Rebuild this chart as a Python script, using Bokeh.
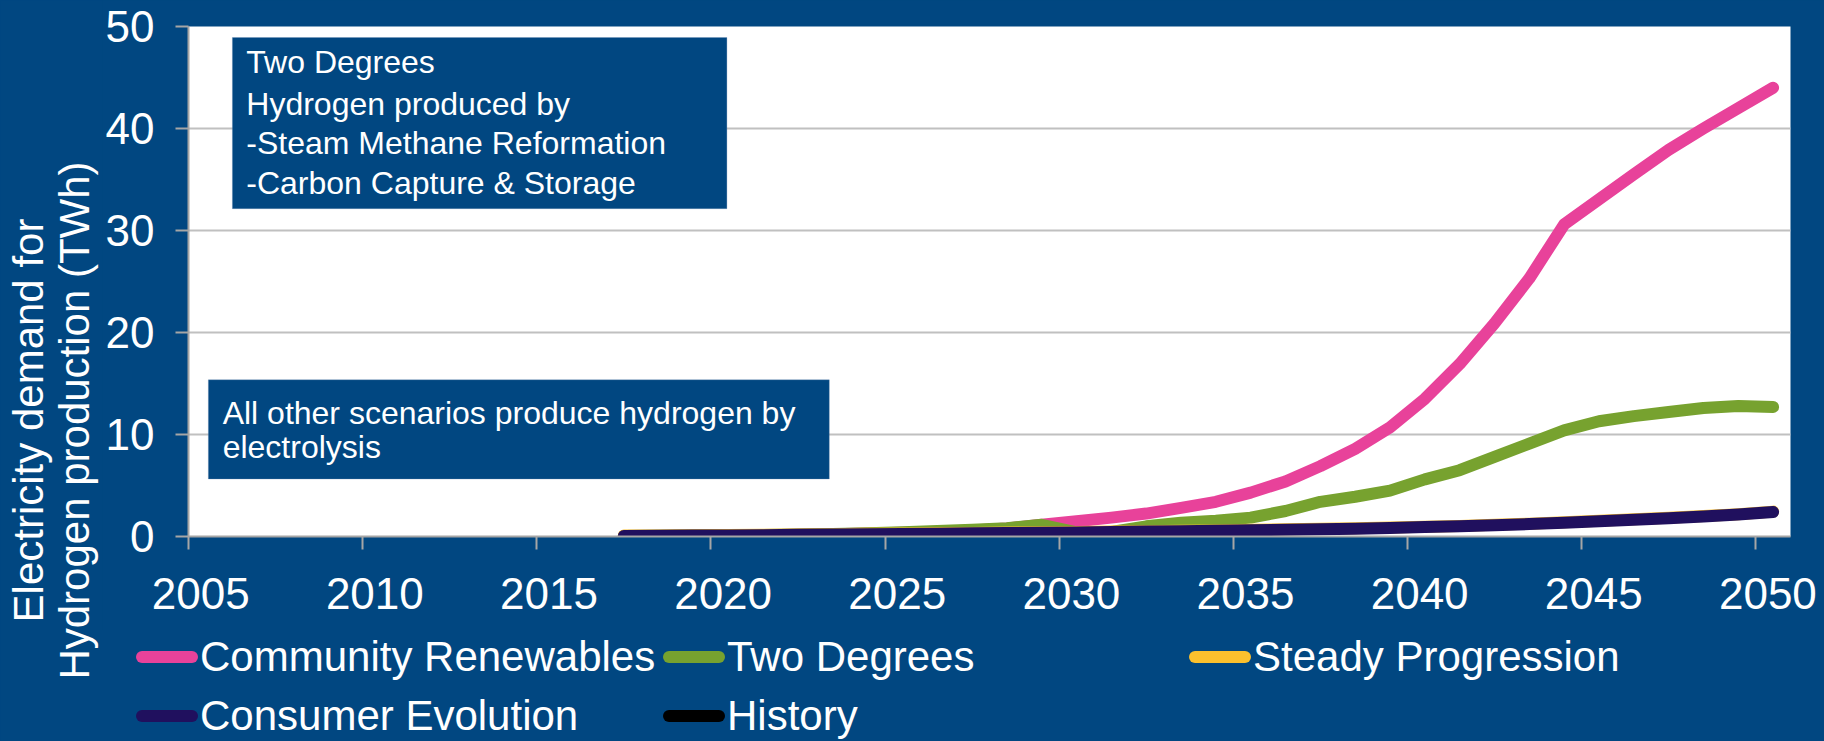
import math
from bokeh.plotting import figure
from bokeh.layouts import row, column
from bokeh.models import Range1d, FixedTicker, Label, BoxAnnotation, Div
from bokeh.embed import file_html
from bokeh.resources import INLINE

# ---------------- data ----------------
years = list(range(2017, 2051))
community_renewables = [0.04, 0.06, 0.08, 0.10, 0.13, 0.17, 0.22, 0.29, 0.37, 0.47, 0.60, 0.78, 1.15,
                        1.5, 1.85, 2.25, 2.8, 3.4, 4.3, 5.4, 6.9, 8.6, 10.7, 13.5, 16.9, 20.9, 25.3,
                        30.6, 33.05, 35.5, 37.9, 40.0, 42.0, 44.0]
two_degrees = [0.05, 0.07, 0.09, 0.12, 0.15, 0.19, 0.25, 0.33, 0.42, 0.53, 0.66, 0.82, 1.15,
               0.4, 0.45, 1.0, 1.35, 1.55, 1.85, 2.5, 3.4, 3.9, 4.5, 5.6, 6.5, 7.8, 9.1,
               10.4, 11.3, 11.8, 12.2, 12.6, 12.8, 12.7]
steady_progression = [0.09, 0.11, 0.13, 0.15, 0.17, 0.20, 0.23, 0.26, 0.29, 0.32, 0.35, 0.38, 0.41,
                      0.44, 0.48, 0.52, 0.56, 0.60, 0.65, 0.70, 0.75, 0.81, 0.88, 0.96, 1.04, 1.14,
                      1.26, 1.39, 1.54, 1.68, 1.84, 2.0, 2.19, 2.44]
consumer_evolution = [0.05, 0.07, 0.09, 0.11, 0.13, 0.16, 0.19, 0.22, 0.25, 0.28, 0.31, 0.34, 0.37,
                      0.40, 0.44, 0.48, 0.52, 0.56, 0.61, 0.66, 0.71, 0.77, 0.84, 0.92, 1.0, 1.1,
                      1.22, 1.35, 1.5, 1.64, 1.8, 1.96, 2.15, 2.4]
history_years = []
history_values = []

x_tick_labels = [2005, 2010, 2015, 2020, 2025, 2030, 2035, 2040, 2045, 2050]
y_tick_labels = [0, 10, 20, 30, 40, 50]

series_names = ["Community Renewables", "Two Degrees", "Steady Progression",
                "Consumer Evolution", "History"]

box1_lines = ["Two Degrees", "Hydrogen produced by",
              "-Steam Methane Reformation", "-Carbon Capture & Storage"]
box2_lines = ["All other scenarios produce hydrogen by", "electrolysis"]
axis_title_lines = ["Electricity demand for", "Hydrogen production (TWh)"]

# ---------------- style ----------------
BG = "#014781"
COLORS = ["#E8429A", "#77A22F", "#FBC02D", "#20105E", "#000000"]
FONT = "Liberation Sans"
MID = 0.5  # points are plotted at mid-year
LW = 12

TITLE_W = 102
TOTAL_W, TOTAL_H = 1824, 741
MAIN_H = 630
LEG_H = TOTAL_H - MAIN_H
MAIN_W = TOTAL_W - TITLE_W

# ---------------- main chart ----------------
p = figure(width=MAIN_W, height=MAIN_H, output_backend="svg", toolbar_location=None,
           x_range=Range1d(2005, 2051), y_range=Range1d(0, 50),
           min_border_left=83, min_border_right=34, min_border_top=26,
           min_border_bottom=MAIN_H - 536,
           background_fill_color="white", border_fill_color=BG, outline_line_color=None)

for ax, ticks, standoff in ((p.xaxis, x_tick_labels, 19), (p.yaxis, y_tick_labels, 21)):
    ax.ticker = FixedTicker(ticks=ticks)
    ax.major_tick_out = 13
    ax.major_tick_in = 0
    ax.minor_tick_line_color = None
    ax.major_tick_line_color = "#A6A6A6"
    ax.major_tick_line_width = 2
    ax.axis_line_color = "#A6A6A6"
    ax.axis_line_width = 2
    ax.major_label_text_color = "white"
    ax.major_label_text_font = FONT
    ax.major_label_text_font_size = "44px"
    ax.major_label_standoff = standoff

# year labels sit slightly right of their tick marks in the original
p.xaxis.major_label_overrides = {yr: "\u00a0\u00a0" + str(yr) for yr in x_tick_labels}

p.xgrid.grid_line_color = None
p.ygrid.grid_line_color = "#C0C0C0"
p.ygrid.grid_line_width = 2

all_series = [(years, community_renewables), (years, two_degrees), (years, steady_progression),
              (years, consumer_evolution), (history_years, history_values)]
for (yrs, vals), col in zip(all_series, COLORS):
    p.line([y + MID for y in yrs], vals, line_width=LW, line_color=col,
           line_cap="round", line_join="round")

box1 = BoxAnnotation(left=2006.26, right=2020.46, top=48.92, bottom=32.14,
                     fill_color=BG, fill_alpha=1, line_color="#6A8CB4", line_width=1)
box2 = BoxAnnotation(left=2005.57, right=2023.4, top=15.36, bottom=5.64,
                     fill_color=BG, fill_alpha=1, line_color="#6A8CB4", line_width=1)
p.add_layout(box1)
p.add_layout(box2)

for txt, yv in zip(box1_lines, [46.5, 42.4, 38.6, 34.65]):
    p.add_layout(Label(x=2006.66, y=yv, text=txt, text_color="white", text_font=FONT,
                       text_font_size="32px", text_baseline="middle", text_align="left"))
for txt, yv in zip(box2_lines, [12.15, 8.8]):
    p.add_layout(Label(x=2005.98, y=yv, text=txt, text_color="white", text_font=FONT,
                       text_font_size="32px", text_baseline="middle", text_align="left"))

# ---------------- rotated y-axis title strip ----------------
t = figure(width=TITLE_W, height=TOTAL_H, output_backend="svg", toolbar_location=None,
           x_range=Range1d(0, 1), y_range=Range1d(0, 1), x_axis_type=None, y_axis_type=None,
           min_border=0, background_fill_color=BG, border_fill_color=BG, outline_line_color=None)
t.grid.visible = False
for txt, xb in zip(axis_title_lines, [28, 74]):
    t.add_layout(Label(x=xb, y=TOTAL_H - 420, x_units="screen", y_units="screen", text=txt,
                       angle=math.pi / 2, text_align="center", text_baseline="alphabetic",
                       text_color="white", text_font=FONT, text_font_size="42px"))

# ---------------- legend strip (three equal columns, two rows) ----------------
col_left = [34, 561, 1087]
row_center = [657 - MAIN_H, 716 - MAIN_H]
parts = []
for i, (name, col) in enumerate(zip(series_names, COLORS)):
    r, c = divmod(i, 3)
    sx, cy = col_left[c], row_center[r]
    parts.append('<div style="position:absolute;left:%dpx;top:%dpx;width:62px;height:12px;'
                 'border-radius:6px;background:%s;"></div>' % (sx, cy - 6, col))
    parts.append('<div style="position:absolute;left:%dpx;top:%dpx;height:40px;line-height:40px;'
                 'font-family:\'%s\';font-size:42px;color:white;white-space:nowrap;">%s</div>'
                 % (sx + 64, cy - 20, FONT, name))
legend_html = ('<div style="position:relative;width:%dpx;height:%dpx;overflow:hidden;'
               'background:%s;">%s</div>' % (MAIN_W, LEG_H, BG, "".join(parts)))
lg = Div(text=legend_html, width=MAIN_W, height=LEG_H,
         styles={"background-color": BG, "margin": "0", "padding": "0"})

layout = row(t, column(p, lg, styles={"background-color": BG}),
             styles={"background-color": BG})
html = file_html(layout, INLINE, title="Electricity demand for hydrogen production")
html = html.replace("<body>", '<body style="background-color:%s;">' % BG, 1)
open("out.html", "w").write(html)
